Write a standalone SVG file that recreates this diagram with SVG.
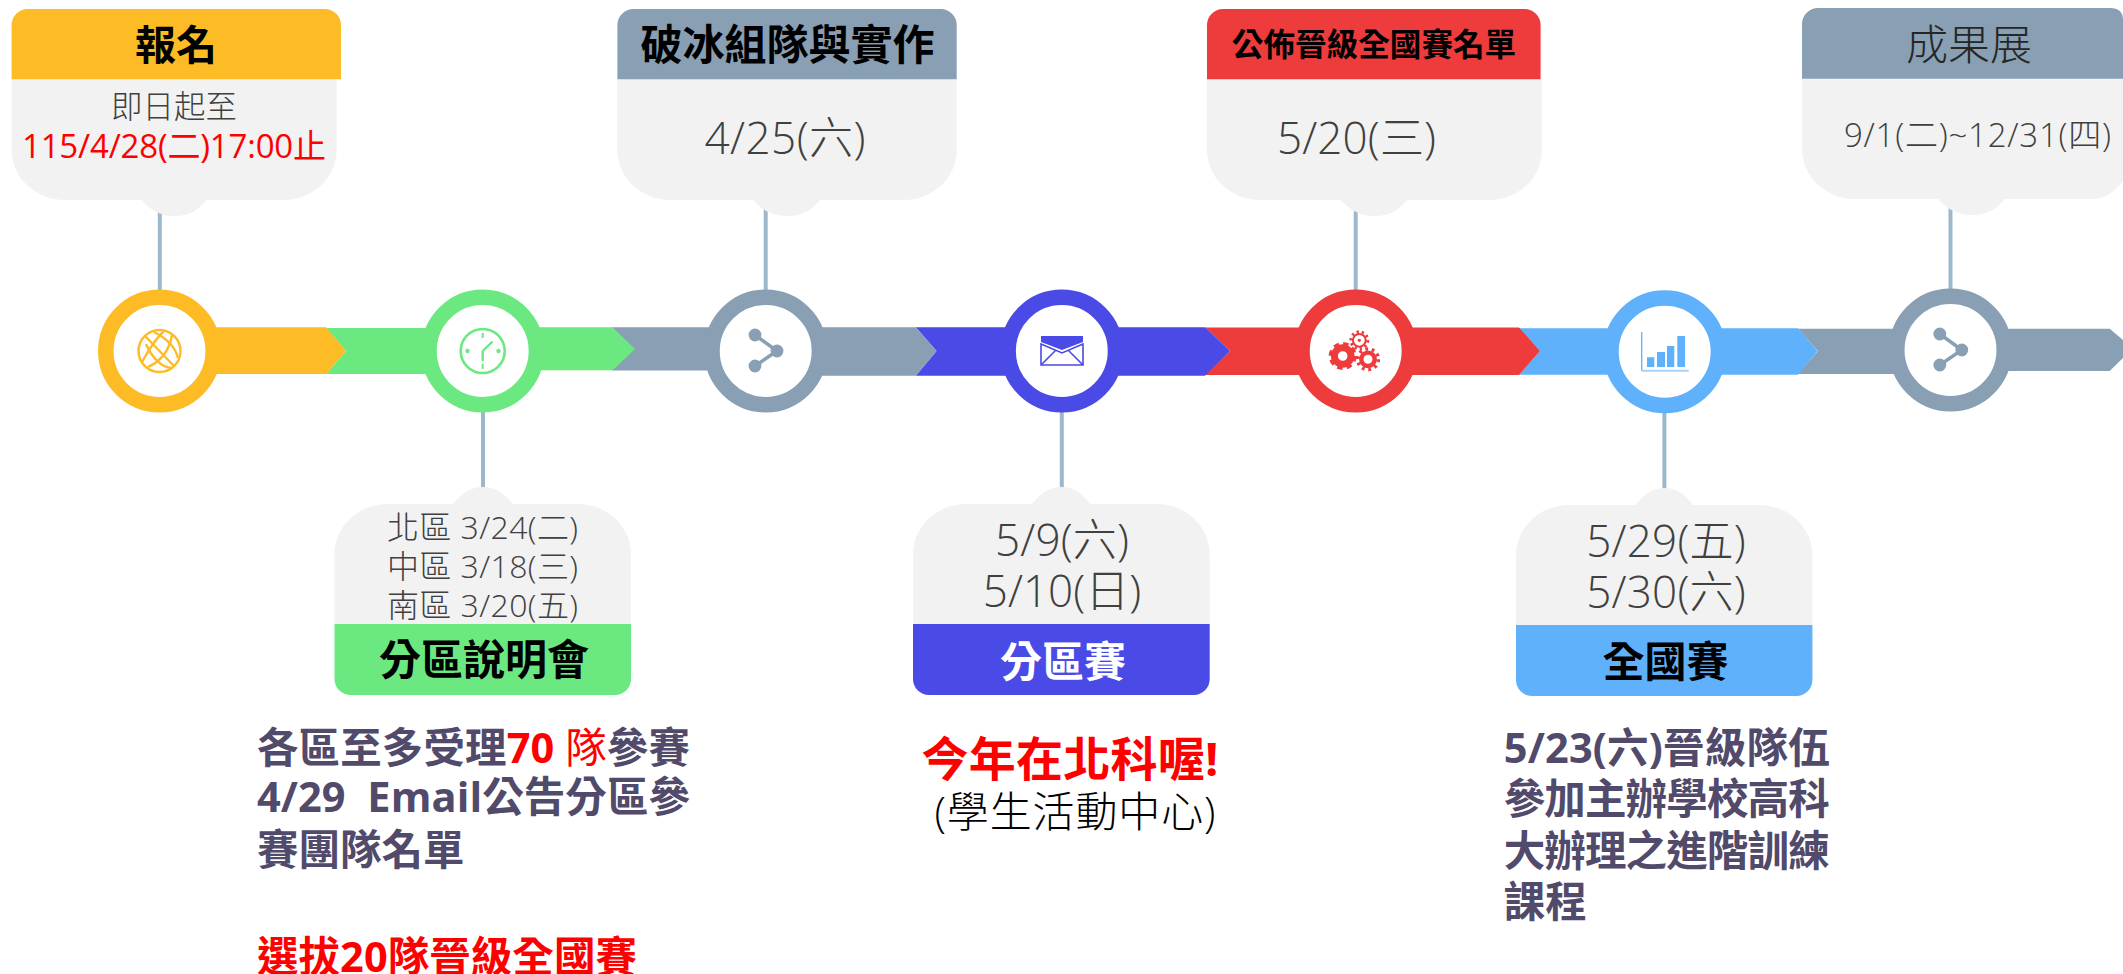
<svg xmlns="http://www.w3.org/2000/svg" width="2123" height="974" viewBox="0 0 2123 974">
<style>
text{font-family:"Open Sans","Noto Sans CJK TC",sans-serif;text-anchor:middle}
.body{fill:#f2f2f2}
.stem{stroke:#9db8cb;stroke-width:4;fill:none}
.hd{font-weight:700;fill:#000}
.thin{font-weight:300;fill:#404040}
.note{font-weight:700;fill:#514a6b;font-size:41.5px;text-anchor:start}
.red{fill:#f00}
.yl{fill:#fdbc25}.gn{fill:#6be980}.gy{fill:#889fb4}.bl{fill:#4a4ae6}.rd{fill:#ee3b3c}.sk{fill:#5fb1fb}
.ryl{stroke:#fdbc25}.rgn{stroke:#6be980}.rgy{stroke:#889fb4}.rbl{stroke:#4a4ae6}.rrd{stroke:#ee3b3c}.rsk{stroke:#5fb1fb}
.ring{fill:#fff;stroke-width:15.5}
</style>
<defs>
<g id="share">
<path d="M-10.7,-16 L11.3,0 L-10.7,15" fill="none" stroke-width="3.5" stroke="#889fb4"/>
<circle cx="-10.7" cy="-16" r="6.4" class="gy"/><circle cx="11.3" cy="0" r="6.4" class="gy"/><circle cx="-10.7" cy="15" r="6.4" class="gy"/>
</g>
</defs>
<g id="connectors">
<path class="gy" d="M1798,328.7 H2109.7 L2123,340 V358 L2109.7,371 H1950 V374 H1798 L1818,351 Z"/>
<path class="sk" d="M1519,328.3 H1798 L1817.7,351 L1798,374.7 H1519 L1540,351 Z"/>
<path class="rd" d="M1205,327.5 H1519 L1540,351 L1519,375 H1205 L1230,351 Z"/>
<path class="bl" d="M915.8,327.3 H1205 L1230,351 L1205,375.7 H915.8 L936.5,351 Z"/>
<path class="gy" d="M612,327.3 H915.8 L936.5,351 L915.8,375.7 H765 V370.5 H612 Z"/>
<path class="gn" d="M326,328 H482 V327.3 H612.7 L635,349 L612.7,370.3 H482 V374 H326 L346,351 Z"/>
<path class="yl" d="M160,327.3 H326 L346,351 L326,374 H160 Z"/>
<path class="stem" d="M159.8,205 V295"/>
<path class="stem" d="M765.7,205 V295"/>
<path class="stem" d="M1355.7,205 V295"/>
<path class="stem" d="M1950.5,205 V295"/>
<path class="stem" d="M483,410 V495"/>
<path class="stem" d="M1061.8,410 V495"/>
<path class="stem" d="M1664.4,410 V495"/>
</g>

<g id="node-signup">
<path class="body" d="M11.6,79 H336.6 V150 A53,50 0 0 1 283.6,200 H206.7 C198,210 190,216 174,216 C160,216 150,210 142,200 H64.6 A53,50 0 0 1 11.6,150 Z"/>
<path class="yl" d="M11.6,79.3 V25 A16,16 0 0 1 27.6,9 H325 A16,16 0 0 1 341,25 V79.3 Z"/>
<text class="hd" x="176" y="60" font-size="41">報名</text>
<text class="thin" x="174" y="118" font-size="31.5">即日起至</text>
<text x="174" y="158" font-size="33" textLength="304" style="font-weight:400;fill:#f00">115/4/28(二)17:00止</text>
<circle class="ring ryl" cx="159.5" cy="351" r="53.7"/>
<g fill="none" stroke="#fdbc25" stroke-width="2.4">
<circle cx="159.5" cy="351" r="21"/>
<path d="M145,336 L174,366"/>
<path d="M146,344 Q156,366 171,368"/>
<path d="M154,332 Q174,342 178,358"/>
<path d="M148,367 Q168,358 172,335"/>
<path d="M142,362 Q154,340 164,331"/>
</g>
</g>

<g id="node-briefing">
<path class="body" d="M334.5,624 V554 A53,50 0 0 1 387.5,504 H453 C461,494 470,487 483,487 C496,487 505,494 512.6,504 H578 A53,50 0 0 1 631,554 V624 Z"/>
<path class="gn" d="M334.5,624 H631 V679 A16,16 0 0 1 615,695 H350.5 A16,16 0 0 1 334.5,679 Z"/>
<text class="thin" x="482.5" y="539" font-size="32" textLength="191">北區 3/24(二)</text>
<text class="thin" x="482.5" y="578" font-size="32" textLength="191">中區 3/18(三)</text>
<text class="thin" x="482.5" y="617" font-size="32" textLength="191">南區 3/20(五)</text>
<text class="hd" x="484" y="675" font-size="42">分區說明會</text>
<circle class="ring rgn" cx="482.7" cy="351" r="53.7"/>
<g fill="#6be980">
<circle cx="482.7" cy="351" r="22" fill="none" stroke="#6be980" stroke-width="2.6"/>
<circle cx="467.5" cy="351" r="2.2"/><circle cx="498.5" cy="351" r="2.2"/>
<rect x="481.7" y="333" width="2" height="5"/><rect x="481.7" y="364" width="2" height="5"/>
<path d="M482.7,351 L492.5,341.5 M482.7,351 V361" fill="none" stroke="#6be980" stroke-width="2.4"/>
</g>
</g>

<g id="node-teaming">
<path class="body" d="M617.4,79 H956.7 V150 A53,50 0 0 1 903.7,200 H820.3 C812,210 802,216 787,216 C772,216 762,210 752.8,200 H670.4 A53,50 0 0 1 617.4,150 Z"/>
<path class="gy" d="M617.4,79.3 V25 A16,16 0 0 1 633.4,9 H940.7 A16,16 0 0 1 956.7,25 V79.3 Z"/>
<text class="hd" x="787.5" y="60" font-size="42">破冰組隊與實作</text>
<text class="thin" x="785" y="154" font-size="44" textLength="161">4/25(六)</text>
<circle class="ring rgy" cx="765.7" cy="351" r="53.7"/>
<use href="#share" x="765.7" y="351"/>
</g>

<g id="node-regional">
<path class="body" d="M913,624 V554 A53,50 0 0 1 966,504 H1032 C1040,494 1049,487 1061.5,487 C1074,487 1083,494 1090.5,504 H1156.7 A53,50 0 0 1 1209.7,554 V624 Z"/>
<path class="bl" d="M913,624 H1209.7 V679 A16,16 0 0 1 1193.7,695 H929 A16,16 0 0 1 913,679 Z"/>
<text class="thin" x="1062" y="556" font-size="44" textLength="134">5/9(六)</text>
<text class="thin" x="1062" y="607" font-size="44" textLength="158.5">5/10(日)</text>
<text class="hd" x="1063" y="677" font-size="42" style="fill:#fff">分區賽</text>
<circle class="ring rbl" cx="1061.8" cy="351" r="53.7"/>
<path class="bl" d="M1041,336 H1083 V342 L1062,350 L1041,342 Z"/>
<path d="M1041,344 L1062,353 L1083,344 V365 H1041 Z M1041,365 L1056,350 M1083,365 L1068,350" fill="none" stroke="#4a4ae6" stroke-width="1.6"/>
</g>

<g id="node-announce">
<path class="body" d="M1207,79 H1542 V150 A53,50 0 0 1 1489,200 H1407 C1399,210 1390,216 1375,216 C1360,216 1350,210 1340.5,200 H1260 A53,50 0 0 1 1207,150 Z"/>
<path class="rd" d="M1207,79.3 V25 A16,16 0 0 1 1223,9 H1524.6 A16,16 0 0 1 1540.6,25 V79.3 Z"/>
<text class="hd" x="1374" y="56" font-size="31.6">公佈晉級全國賽名單</text>
<text class="thin" x="1356.5" y="154" font-size="44" textLength="159">5/20(三)</text>
<circle class="ring rrd" cx="1355.7" cy="351" r="53.7"/>
<g fill="none" stroke="#ee3b3c">
<circle cx="1342.7" cy="356" r="8.3" stroke-width="7"/>
<circle cx="1342.7" cy="356" r="12.2" stroke-width="3.6" stroke-dasharray="5.4 4.2"/>
<circle cx="1359.3" cy="340.3" r="6.4" stroke-width="2"/>
<circle cx="1359.3" cy="340.3" r="8.2" stroke-width="3.5" stroke-dasharray="2.2 2.9"/>
<circle cx="1368" cy="359.3" r="6.7" stroke-width="4.4"/>
<circle cx="1368" cy="359.3" r="10.3" stroke-width="3.6" stroke-dasharray="2.8 3.7"/>
</g>
<circle class="rd" cx="1359.3" cy="340.3" r="1.6"/>
</g>

<g id="node-national">
<path class="body" d="M1516,625 V555 A53,50 0 0 1 1569,505 H1635.7 C1643,495 1652,488 1664.5,488 C1677,488 1686,495 1693,505 H1759.4 A53,50 0 0 1 1812.4,555 V625 Z"/>
<path class="sk" d="M1516,625 H1812.4 V680 A16,16 0 0 1 1796.4,696 H1532 A16,16 0 0 1 1516,680 Z"/>
<text class="thin" x="1666" y="557" font-size="44" textLength="159.4">5/29(五)</text>
<text class="thin" x="1666" y="608" font-size="44" textLength="159.4">5/30(六)</text>
<text class="hd" x="1665.5" y="677" font-size="42">全國賽</text>
<circle class="ring rsk" cx="1664.7" cy="351.7" r="53.7"/>
<path d="M1641.7,332 V370.7" stroke="#5fb1fb" stroke-width="1.3" fill="none"/>
<path d="M1641.5,370.7 H1688.7" stroke="#a5d3fd" stroke-width="2" fill="none"/>
<path class="sk" d="M1647,357.3 H1654.3 V367 H1647 Z M1657,352 H1665 V367 H1657 Z M1667,346 H1674.3 V367 H1667 Z M1677.3,336 H1685 V367 H1677.3 Z"/>
</g>

<g id="node-expo">
<path class="body" d="M1802,78 H2123 V181 Q2110,199 2090,199 H2005 C1997,209 1987,215 1972,215 C1957,215 1947,209 1938,199 H1855 A53,50 0 0 1 1802,149 Z"/>
<path class="gy" d="M1802,78.7 V24 A16,16 0 0 1 1818,8 H2110 Q2123,8 2123,20 V78.7 Z"/>
<text x="1969" y="60" font-size="42" style="font-weight:300;fill:#262626">成果展</text>
<text class="thin" x="1977.5" y="147" font-size="33" textLength="267">9/1(二)~12/31(四)</text>
<circle class="ring rgy" cx="1950.5" cy="350" r="53.7"/>
<use href="#share" x="1950.5" y="350"/>
</g>

<g id="notes">
<text class="note" x="257" y="762.7" textLength="433">各區至多受理<tspan class="red">70 </tspan><tspan class="red" font-weight="400">隊</tspan>參賽</text>
<text class="note" x="257" y="812" textLength="433" xml:space="preserve" style="white-space:pre">4/29  Email公告分區參</text>
<text class="note" x="257" y="865">賽團隊名單</text>
<text class="note" x="257" y="972" textLength="380" style="fill:#f00">選拔20隊晉級全國賽</text>
<text x="1070" y="776" font-size="47" textLength="297" style="font-weight:700;fill:#f00">今年在北科喔!</text>
<text x="1075" y="827" font-size="42" textLength="281" style="font-weight:300;fill:#000">(學生活動中心)</text>
<text class="note" x="1503.7" y="762.7" textLength="326">5/23(六)晉級隊伍</text>
<text class="note" x="1503.7" y="814" textLength="326">參加主辦學校高科</text>
<text class="note" x="1503.7" y="866" textLength="326">大辦理之進階訓練</text>
<text class="note" x="1503.7" y="917">課程</text>
</g>
</svg>
